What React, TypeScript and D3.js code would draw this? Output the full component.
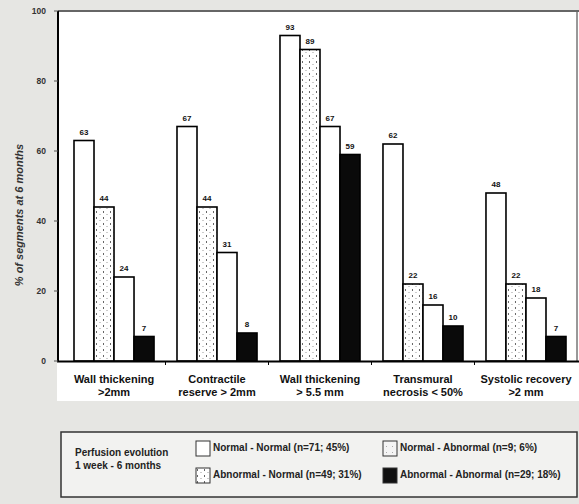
import React from "react";
import * as d3 from "d3";

const categories = [
  ["Wall thickening", ">2mm"],
  ["Contractile", "reserve > 2mm"],
  ["Wall thickening", "> 5.5  mm"],
  ["Transmural", "necrosis < 50%"],
  ["Systolic recovery", ">2 mm"],
];
const seriesNames = ["NN", "AN", "NA", "AA"];
const normalNormal = [63, 67, 93, 62, 48];
const abnormalNormal = [44, 44, 89, 22, 22];
const normalAbnormal = [24, 31, 67, 16, 18];
const abnormalAbnormal = [7, 8, 59, 10, 7];
const seriesValues = [normalNormal, abnormalNormal, normalAbnormal, abnormalAbnormal];
const yTicks = [0, 20, 40, 60, 80, 100];
const legendItems = [
  { label: "Normal - Normal (n=71;  45%)", fill: "white", col: 0, row: 0 },
  { label: "Normal - Abnormal (n=9;  6%)", fill: "url(#dotsLight)", col: 1, row: 0 },
  { label: "Abnormal - Normal (n=49;  31%)", fill: "url(#dots)", col: 0, row: 1 },
  { label: "Abnormal - Abnormal (n=29; 18%)", fill: "#111", col: 1, row: 1 },
];
const fills = ["white", "url(#dots)", "white", "#0a0a0a"];

export default function App() {
  const W = 579, H = 504;
  const y = d3.scaleLinear().domain([0, 100]).range([361, 11]);
  const x0 = d3.scaleBand<number>().domain(d3.range(categories.length)).range([74, 566]).paddingInner(0.223).paddingOuter(0);
  const x1 = d3.scaleBand<number>().domain(d3.range(seriesNames.length)).range([0, x0.bandwidth()]).padding(0);
  const font = "'Liberation Sans', Arial, sans-serif";
  const boundaries = d3.range(1, categories.length).map((i) => (x0(i - 1)! + x0.bandwidth() + x0(i)!) / 2);
  return (
    <svg width={W} height={H} style={{ position: "absolute", left: 0, top: 0 }} fontFamily={font}>
      <defs>
        <pattern id="dots" width="7" height="6" patternUnits="userSpaceOnUse">
          <rect width="7" height="6" fill="white" />
          <rect x="1" y="1" width="1" height="2" fill="#666" />
          <rect x="4.5" y="4" width="1" height="1" fill="#999" />
        </pattern>
        <pattern id="dotsLight" width="6" height="6" patternUnits="userSpaceOnUse">
          <rect width="6" height="6" fill="#f4f4f4" />
          <rect x="2" y="2" width="1" height="1" fill="#aaa" />
        </pattern>
      </defs>
      <rect width={W} height={H} fill="#e6e6e3" />
      <rect x={57} y={12} width={522} height={389} fill="white" />
      <line x1={58} x2={579} y1={11} y2={11} stroke="#666" strokeWidth={2} />
      <line x1={577} x2={577} y1={12} y2={361} stroke="#333" strokeWidth={1} />
      {categories.map((c, i) => (
        <g key={i} transform={`translate(${x0(i)},0)`}>
          {seriesValues.map((vals, s) => (
            <g key={s}>
              <rect x={x1(s)} y={y(vals[i])} width={x1.bandwidth()} height={y(0) - y(vals[i])} fill={fills[s]} stroke="#000" strokeWidth={1.6} />
              <text x={x1(s)! + x1.bandwidth() / 2} y={y(vals[i]) - 6} textAnchor="middle" fontSize={8} fontWeight="bold" fill="#111">{vals[i]}</text>
            </g>
          ))}
        </g>
      ))}
      <line x1={58} x2={58} y1={11} y2={362} stroke="#000" strokeWidth={2} />
      <line x1={57} x2={579} y1={361.5} y2={361.5} stroke="#000" strokeWidth={2} />
      {boundaries.map((b, i) => (
        <line key={i} x1={b} x2={b} y1={361} y2={365} stroke="#000" strokeWidth={1} />
      ))}
      {yTicks.map((t) => (
        <g key={t}>
          <line x1={54} x2={58} y1={y(t)} y2={y(t)} stroke="#555" strokeWidth={1} />
          <text x={46} y={y(t) + 3} textAnchor="end" fontSize={8.5} fontWeight="bold" fill="#333">{t}</text>
        </g>
      ))}
      <text transform="translate(23,215) rotate(-90)" textAnchor="middle" fontSize={11} fontWeight="bold" fontStyle="italic" fill="#333">% of segments at 6 months</text>
      {categories.map((c, i) => (
        <text key={i} x={x0(i)! + x0.bandwidth() / 2} y={383} textAnchor="middle" fontSize={11} fontWeight="bold" fill="#111">
          <tspan x={x0(i)! + x0.bandwidth() / 2} dy={0}>{c[0]}</tspan>
          <tspan x={x0(i)! + x0.bandwidth() / 2} dy={13}>{c[1]}</tspan>
        </text>
      ))}
      <rect x={61} y={432} width={516} height={65} fill="#f2f2f0" stroke="#333" strokeWidth={1.5} />
      <text x={75} y={456} fontSize={10} fontWeight="bold" fill="#222">Perfusion evolution</text>
      <text x={75} y={469} fontSize={10} fontWeight="bold" fill="#222">1 week - 6 months</text>
      {legendItems.map((it, i) => {
        const lx = it.col === 0 ? 196 : 383;
        const ly = it.row === 0 ? 441 : 468;
        return (
          <g key={i}>
            <rect x={lx} y={ly} width={14} height={15} fill={it.fill} stroke="#333" strokeWidth={1} />
            <text x={lx + 17} y={ly + 10} fontSize={10} fontWeight="bold" fill="#222">{it.label}</text>
          </g>
        );
      })}
    </svg>
  );
}
